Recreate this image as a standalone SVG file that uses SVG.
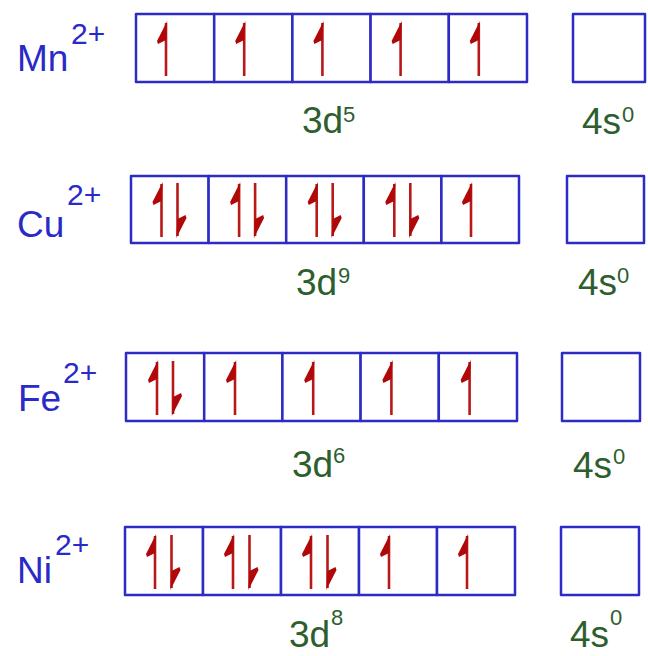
<svg xmlns="http://www.w3.org/2000/svg" xmlns:xlink="http://www.w3.org/1999/xlink" width="648" height="656" viewBox="0 0 648 656">
<style>
.box{fill:#fff;stroke:#2c2cc4;stroke-width:2.5;stroke-linejoin:round}
.ion{font-family:"Liberation Sans",Arial,sans-serif;fill:#2a2ac8;font-size:37px}
.ion .sup{font-size:30px}
.lab{font-family:"Liberation Sans",Arial,sans-serif;fill:#2e5e2e;font-size:37px}
.lab .sup{font-size:22px}
</style>
<defs>
<g id="up">
<line x1="0" y1="2" x2="0" y2="55" stroke="#b81818" stroke-width="2.6"/>
<path d="M1.2,0 L-9,20 L-8,23 L0,19 Z" fill="#b00808"/>
</g>
<g id="dn">
<use xlink:href="#up" transform="rotate(180) translate(0,-55)"/>
</g>
</defs>

<g id="mn">
<text class="ion" x="17" y="71">Mn</text>
<text class="ion" x="71" y="44"><tspan class="sup">2+</tspan></text>
<rect class="box" x="136" y="14" width="78.2" height="68"/>
<rect class="box" x="214.2" y="14" width="78.2" height="68"/>
<rect class="box" x="292.4" y="14" width="78.2" height="68"/>
<rect class="box" x="370.6" y="14" width="78.2" height="68"/>
<rect class="box" x="448.8" y="14" width="78.2" height="68"/>
<rect class="box" x="573" y="14" width="72" height="68"/>
<use xlink:href="#up" x="166" y="21"/>
<use xlink:href="#up" x="244.2" y="21"/>
<use xlink:href="#up" x="322.4" y="21"/>
<use xlink:href="#up" x="400.6" y="21"/>
<use xlink:href="#up" x="478.8" y="21"/>
<text class="lab" x="302" y="133">3d</text>
<text class="lab" x="343" y="122"><tspan class="sup">5</tspan></text>
<text class="lab" x="582" y="134">4s</text>
<text class="lab" x="622" y="122"><tspan class="sup">0</tspan></text>
</g>

<g id="cu">
<text class="ion" x="17" y="237">Cu</text>
<text class="ion" x="67" y="205"><tspan class="sup">2+</tspan></text>
<rect class="box" x="131" y="176" width="77.6" height="67"/>
<rect class="box" x="208.6" y="176" width="77.6" height="67"/>
<rect class="box" x="286.2" y="176" width="77.6" height="67"/>
<rect class="box" x="363.8" y="176" width="77.6" height="67"/>
<rect class="box" x="441.4" y="176" width="77.6" height="67"/>
<rect class="box" x="567" y="176" width="77" height="67"/>
<use xlink:href="#up" x="161.5" y="182"/>
<use xlink:href="#dn" x="177.5" y="183"/>
<use xlink:href="#up" x="239.1" y="182"/>
<use xlink:href="#dn" x="255.1" y="183"/>
<use xlink:href="#up" x="316.7" y="182"/>
<use xlink:href="#dn" x="332.7" y="183"/>
<use xlink:href="#up" x="394.3" y="182"/>
<use xlink:href="#dn" x="410.3" y="183"/>
<use xlink:href="#up" x="471" y="182"/>
<text class="lab" x="296" y="295">3d</text>
<text class="lab" x="338" y="283"><tspan class="sup">9</tspan></text>
<text class="lab" x="578" y="295">4s</text>
<text class="lab" x="617" y="283"><tspan class="sup">0</tspan></text>
</g>

<g id="fe">
<text class="ion" x="18" y="411">Fe</text>
<text class="ion" x="63" y="383"><tspan class="sup">2+</tspan></text>
<rect class="box" x="126" y="353" width="78.2" height="68"/>
<rect class="box" x="204.2" y="353" width="78.2" height="68"/>
<rect class="box" x="282.4" y="353" width="78.2" height="68"/>
<rect class="box" x="360.6" y="353" width="78.2" height="68"/>
<rect class="box" x="438.8" y="353" width="78.2" height="68"/>
<rect class="box" x="562" y="353" width="78" height="68"/>
<use xlink:href="#up" x="157" y="360"/>
<use xlink:href="#dn" x="173" y="361"/>
<use xlink:href="#up" x="235" y="360"/>
<use xlink:href="#up" x="313.2" y="360"/>
<use xlink:href="#up" x="391.4" y="360"/>
<use xlink:href="#up" x="469.6" y="360"/>
<text class="lab" x="292" y="477">3d</text>
<text class="lab" x="333" y="463"><tspan class="sup">6</tspan></text>
<text class="lab" x="573" y="478">4s</text>
<text class="lab" x="613" y="464"><tspan class="sup">0</tspan></text>
</g>

<g id="ni">
<text class="ion" x="17" y="583">Ni</text>
<text class="ion" x="55" y="555"><tspan class="sup">2+</tspan></text>
<rect class="box" x="125" y="527" width="78" height="68"/>
<rect class="box" x="203" y="527" width="78" height="68"/>
<rect class="box" x="281" y="527" width="78" height="68"/>
<rect class="box" x="359" y="527" width="78" height="68"/>
<rect class="box" x="437" y="527" width="78" height="68"/>
<rect class="box" x="561" y="527" width="78" height="68"/>
<use xlink:href="#up" x="155" y="534"/>
<use xlink:href="#dn" x="171.5" y="535"/>
<use xlink:href="#up" x="233" y="534"/>
<use xlink:href="#dn" x="249.5" y="535"/>
<use xlink:href="#up" x="311" y="534"/>
<use xlink:href="#dn" x="327.5" y="535"/>
<use xlink:href="#up" x="389" y="534"/>
<use xlink:href="#up" x="467" y="534"/>
<text class="lab" x="289" y="647">3d</text>
<text class="lab" x="331" y="625"><tspan class="sup">8</tspan></text>
<text class="lab" x="570" y="647">4s</text>
<text class="lab" x="610" y="625"><tspan class="sup">0</tspan></text>
</g>
</svg>
